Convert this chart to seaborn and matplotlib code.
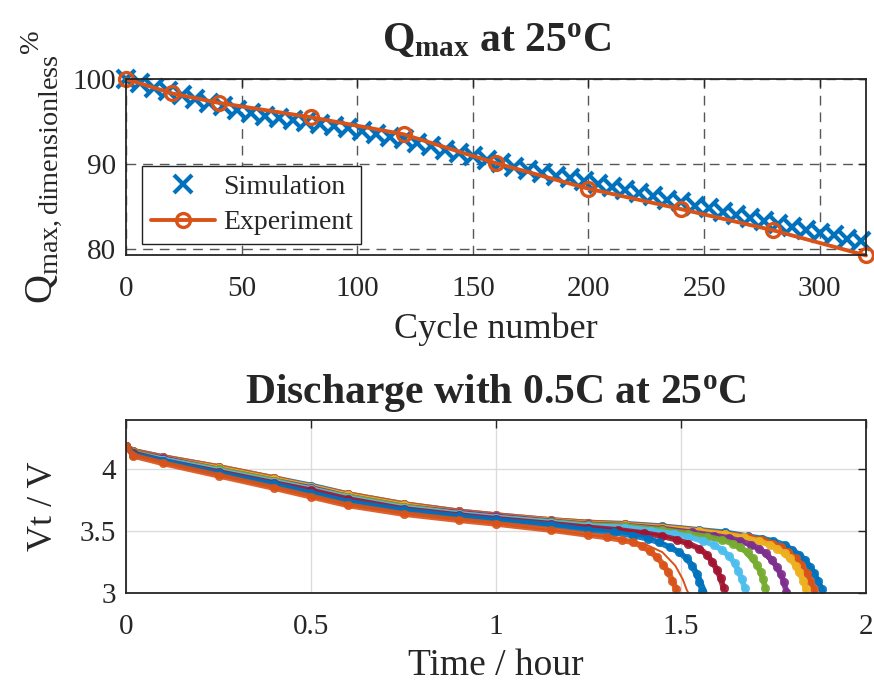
import numpy as np
import pandas as pd
import matplotlib
matplotlib.use("Agg")
import matplotlib.pyplot as plt
import seaborn as sns

# ---------------- data: Qmax vs cycle ----------------
exp_cycles = [0, 20, 40, 80, 120, 160, 200, 240, 280, 320]
exp_qmax = [100.0, 98.3, 97.2, 95.5, 93.5, 90.1, 87.1, 84.7, 82.2, 79.25]

sim_cycles = [0, 6, 12, 18, 24, 30, 36, 42, 48, 54, 60, 66, 72, 78, 84, 90, 96,
              102, 108, 114, 120, 126, 132, 138, 144, 150, 156, 162, 168, 174,
              180, 186, 192, 198, 204, 210, 216, 222, 228, 234, 240, 246, 252,
              258, 264, 270, 276, 282, 288, 294, 300, 306, 312, 318]
sim_qmax = [100.0, 99.5, 99.0, 98.6, 98.1, 97.6, 97.2, 96.8, 96.4, 96.0, 95.6,
            95.4, 95.2, 95.0, 94.7, 94.5, 94.2, 93.9, 93.5, 93.2, 92.9, 92.5,
            92.1, 91.7, 91.3, 90.9, 90.5, 90.1, 89.7, 89.3, 88.9, 88.6, 88.3,
            88.0, 87.6, 87.3, 86.9, 86.6, 86.2, 85.8, 85.5, 85.1, 84.8, 84.4,
            84.0, 83.7, 83.3, 83.0, 82.6, 82.2, 81.9, 81.6, 81.2, 80.9]

# ---------------- data: discharge curves ----------------
body_t = [0, 0.02, 0.1, 0.25, 0.4, 0.5, 0.6, 0.75, 0.9, 1.0, 1.15, 1.25]

body_v1 = [4.19, 4.15, 4.10, 4.02, 3.93, 3.87, 3.80, 3.72, 3.66, 3.63, 3.59, 3.57]
body_v2 = [4.19, 4.15, 4.10, 4.02, 3.93, 3.86, 3.80, 3.72, 3.66, 3.63, 3.59, 3.57]
body_v3 = [4.19, 4.14, 4.09, 4.01, 3.92, 3.86, 3.79, 3.71, 3.65, 3.62, 3.585, 3.56]
body_v4 = [4.19, 4.14, 4.09, 4.00, 3.91, 3.85, 3.78, 3.70, 3.65, 3.62, 3.58, 3.555]
body_v5 = [4.19, 4.14, 4.08, 4.00, 3.91, 3.84, 3.78, 3.70, 3.64, 3.61, 3.575, 3.55]
body_v6 = [4.19, 4.13, 4.08, 3.99, 3.90, 3.84, 3.77, 3.69, 3.64, 3.61, 3.57, 3.54]
body_v7 = [4.19, 4.13, 4.07, 3.98, 3.89, 3.83, 3.76, 3.68, 3.63, 3.60, 3.56, 3.53]
body_v8 = [4.19, 4.12, 4.07, 3.97, 3.88, 3.81, 3.74, 3.67, 3.62, 3.59, 3.55, 3.51]
body_v9 = [4.19, 4.11, 4.05, 3.95, 3.85, 3.78, 3.71, 3.64, 3.59, 3.56, 3.51, 3.47]

tail_t1 = [1.35, 1.45, 1.55, 1.62, 1.68, 1.72, 1.75, 1.78, 1.80, 1.82, 1.835, 1.85, 1.86, 1.87, 1.88]
tail_v1 = [3.56, 3.54, 3.51, 3.49, 3.46, 3.44, 3.42, 3.39, 3.35, 3.31, 3.27, 3.21, 3.16, 3.10, 3.03]
tail_t2 = [1.35, 1.45, 1.55, 1.62, 1.68, 1.72, 1.75, 1.77, 1.79, 1.81, 1.825, 1.84, 1.85, 1.86]
tail_v2 = [3.555, 3.535, 3.505, 3.48, 3.455, 3.43, 3.40, 3.37, 3.33, 3.28, 3.23, 3.16, 3.10, 3.03]
tail_t3 = [1.35, 1.45, 1.55, 1.62, 1.67, 1.71, 1.74, 1.76, 1.78, 1.795, 1.81, 1.82, 1.83, 1.838]
tail_v3 = [3.55, 3.53, 3.50, 3.475, 3.45, 3.42, 3.39, 3.36, 3.32, 3.28, 3.22, 3.17, 3.10, 3.03]
tail_t4 = [1.35, 1.45, 1.53, 1.59, 1.63, 1.66, 1.69, 1.71, 1.73, 1.745, 1.76, 1.77, 1.778, 1.785]
tail_v4 = [3.545, 3.52, 3.49, 3.465, 3.445, 3.42, 3.39, 3.36, 3.32, 3.27, 3.21, 3.15, 3.09, 3.01]
tail_t5 = [1.35, 1.45, 1.52, 1.57, 1.61, 1.64, 1.66, 1.68, 1.695, 1.705, 1.715, 1.722, 1.728]
tail_v5 = [3.54, 3.51, 3.48, 3.455, 3.43, 3.40, 3.37, 3.33, 3.28, 3.23, 3.17, 3.11, 3.04]
tail_t6 = [1.35, 1.42, 1.48, 1.52, 1.56, 1.59, 1.61, 1.63, 1.645, 1.655, 1.665, 1.672]
tail_v6 = [3.53, 3.505, 3.48, 3.455, 3.42, 3.39, 3.35, 3.30, 3.24, 3.18, 3.11, 3.04]
tail_t7 = [1.33, 1.40, 1.45, 1.49, 1.52, 1.55, 1.57, 1.585, 1.597, 1.607, 1.615]
tail_v7 = [3.51, 3.485, 3.46, 3.43, 3.40, 3.36, 3.31, 3.25, 3.19, 3.12, 3.04]
tail_t8 = [1.32, 1.37, 1.41, 1.44, 1.47, 1.495, 1.515, 1.53, 1.542, 1.55, 1.557]
tail_v8 = [3.49, 3.465, 3.44, 3.41, 3.37, 3.33, 3.28, 3.22, 3.15, 3.09, 3.02]
tail_t9 = [1.30, 1.34, 1.37, 1.395, 1.415, 1.435, 1.452, 1.465, 1.477, 1.487]
tail_v9 = [3.45, 3.43, 3.41, 3.38, 3.34, 3.29, 3.23, 3.17, 3.10, 3.03]

sim_tail_t1 = [1.35, 1.60, 1.74, 1.80, 1.845, 1.875, 1.89]
sim_tail_v1 = [3.565, 3.50, 3.43, 3.35, 3.23, 3.10, 3.0]
sim_tail_t2 = [1.35, 1.60, 1.72, 1.78, 1.825, 1.852, 1.866]
sim_tail_v2 = [3.56, 3.495, 3.435, 3.36, 3.24, 3.11, 3.0]
sim_tail_t3 = [1.35, 1.60, 1.70, 1.76, 1.80, 1.825, 1.84]
sim_tail_v3 = [3.555, 3.49, 3.43, 3.35, 3.24, 3.11, 3.0]
sim_tail_t4 = [1.35, 1.55, 1.65, 1.71, 1.75, 1.775, 1.79]
sim_tail_v4 = [3.55, 3.485, 3.43, 3.35, 3.23, 3.10, 3.0]
sim_tail_t5 = [1.35, 1.52, 1.62, 1.67, 1.705, 1.725, 1.735]
sim_tail_v5 = [3.545, 3.48, 3.42, 3.33, 3.21, 3.09, 3.0]
sim_tail_t6 = [1.35, 1.48, 1.57, 1.62, 1.655, 1.672, 1.68]
sim_tail_v6 = [3.535, 3.48, 3.41, 3.32, 3.19, 3.07, 3.0]
sim_tail_t7 = [1.33, 1.45, 1.53, 1.575, 1.60, 1.615, 1.622]
sim_tail_v7 = [3.515, 3.465, 3.39, 3.30, 3.18, 3.07, 3.0]
sim_tail_t8 = [1.32, 1.42, 1.48, 1.525, 1.55, 1.563, 1.57]
sim_tail_v8 = [3.495, 3.445, 3.37, 3.27, 3.15, 3.05, 3.0]
sim_tail_t9 = [1.30, 1.40, 1.45, 1.485, 1.505, 1.515, 1.52]
sim_tail_v9 = [3.455, 3.40, 3.33, 3.22, 3.11, 3.03, 3.0]

curve_colors = ["#0072BD", "#D95319", "#EDB120", "#7E2F8E", "#77AC30",
                "#4DBEEE", "#A2142F", "#0072BD", "#D95319"]

x_ticks_top = [0, 50, 100, 150, 200, 250, 300]
y_ticks_top = [80, 90, 100]
x_ticks_bot = [0, 0.5, 1, 1.5, 2]
y_ticks_bot = [3, 3.5, 4]

# ---------------- style ----------------
sns.set_style("white")
plt.rcParams["font.family"] = ["Liberation Serif", "DejaVu Serif"]
plt.rcParams["mathtext.fontset"] = "custom"
plt.rcParams["mathtext.rm"] = "Liberation Serif"
plt.rcParams["mathtext.it"] = "Liberation Serif:italic"
plt.rcParams["mathtext.bf"] = "Liberation Serif:bold"

BLUE = "#0072BD"
ORANGE = "#D95319"
TICK_FS = 21
LABEL_FS = 26
TITLE_FS = 30

fig = plt.figure(figsize=(8.74, 6.87), dpi=100)
ax1 = fig.add_axes([0.1442, 0.6288, 0.8466, 0.2562])
ax2 = fig.add_axes([0.1442, 0.1368, 0.8466, 0.2518])

# ---------------- top panel ----------------
df_sim = pd.DataFrame({"cycle": sim_cycles, "q": sim_qmax})
df_exp = pd.DataFrame({"cycle": exp_cycles, "q": exp_qmax})

sns.lineplot(data=df_sim, x="cycle", y="q", ax=ax1, linestyle="none",
             marker="x", markersize=13, markeredgewidth=3.0,
             markeredgecolor=BLUE, color=BLUE, label="Simulation",
             sort=False, estimator=None, clip_on=False, zorder=3)
sns.lineplot(data=df_exp, x="cycle", y="q", ax=ax1, color=ORANGE, lw=2.8,
             marker="o", markersize=10, markerfacecolor="none",
             markeredgecolor=ORANGE, markeredgewidth=2.4, label="Experiment",
             sort=False, estimator=None, clip_on=False, zorder=4)

ax1.set_xlim(0, 320)
ax1.set_ylim(79.3, 100)
ax1.set_xticks(x_ticks_top)
ax1.set_yticks(y_ticks_top)
ax1.grid(True, linestyle=(0, (7, 5)), color="#3a3a3a", lw=1.0, alpha=0.85)
ax1.set_xlabel("Cycle number", fontsize=LABEL_FS, labelpad=8)
ax1.set_ylabel(r"$\mathrm{Q_{max,dimensionless}}^{\%}$", fontsize=29,
               labelpad=6)
ax1.set_title(r"$\mathbf{Q_{max}}$ at 25$^{\mathbf{o}}$C", fontsize=TITLE_FS,
              fontweight="bold", pad=20)
leg = ax1.legend(loc="lower left", bbox_to_anchor=(0.022, 0.065),
                 fontsize=20, frameon=True, fancybox=False, framealpha=1,
                 edgecolor="#222222", borderpad=0.3, labelspacing=0.35,
                 handlelength=2.3, handletextpad=0.3, borderaxespad=0)
leg.get_frame().set_linewidth(1.0)

# ---------------- bottom panel ----------------
body_vs = [body_v1, body_v2, body_v3, body_v4, body_v5, body_v6, body_v7, body_v8, body_v9]
tail_ts = [tail_t1, tail_t2, tail_t3, tail_t4, tail_t5, tail_t6, tail_t7, tail_t8, tail_t9]
tail_vs = [tail_v1, tail_v2, tail_v3, tail_v4, tail_v5, tail_v6, tail_v7, tail_v8, tail_v9]
sim_ts = [sim_tail_t1, sim_tail_t2, sim_tail_t3, sim_tail_t4, sim_tail_t5,
          sim_tail_t6, sim_tail_t7, sim_tail_t8, sim_tail_t9]
sim_vs = [sim_tail_v1, sim_tail_v2, sim_tail_v3, sim_tail_v4, sim_tail_v5,
          sim_tail_v6, sim_tail_v7, sim_tail_v8, sim_tail_v9]

for i in range(9):
    col = curve_colors[i]
    dfe = pd.DataFrame({"t": body_t + tail_ts[i], "v": body_vs[i] + tail_vs[i]})
    sns.lineplot(data=dfe, x="t", y="v", ax=ax2, color=col, lw=4.2, alpha=0.9,
                 marker="o", markersize=6, markeredgecolor=col,
                 markeredgewidth=0.5, sort=False, estimator=None, zorder=2 + i * 0.1)
    dfs = pd.DataFrame({"t": body_t[1:] + sim_ts[i], "v": body_vs[i][1:] + sim_vs[i]})
    sns.lineplot(data=dfs, x="t", y="v", ax=ax2, color=col, lw=1.4,
                 sort=False, estimator=None, zorder=2.05 + i * 0.1)

ax2.set_xlim(0, 2)
ax2.set_ylim(3, 4.4)
ax2.set_xticks(x_ticks_bot)
ax2.set_xticklabels(["0", "0.5", "1", "1.5", "2"])
ax2.set_yticks(y_ticks_bot)
ax2.set_yticklabels(["3", "3.5", "4"])
ax2.grid(True, linestyle="-", color="#dcdcdc", lw=1.0)
ax2.set_xlabel("Time / hour", fontsize=27, labelpad=6)
ax2.set_ylabel("Vt / V", fontsize=LABEL_FS, labelpad=14)
ax2.set_title(r"Discharge with 0.5C at 25$^{\mathbf{o}}$C", fontsize=TITLE_FS,
              fontweight="bold", pad=12)

for ax in (ax1, ax2):
    ax.set_axisbelow(True)
    ax.tick_params(direction="in", top=True, right=True, length=6, width=1.0,
                   labelsize=TICK_FS, colors="#262626", pad=7)
    ax.tick_params(axis="x", pad=15)
    for s in ax.spines.values():
        s.set_linewidth(1.3)
        s.set_color("#262626")
        s.set_zorder(10)

fig.savefig("out.png", dpi=100)
